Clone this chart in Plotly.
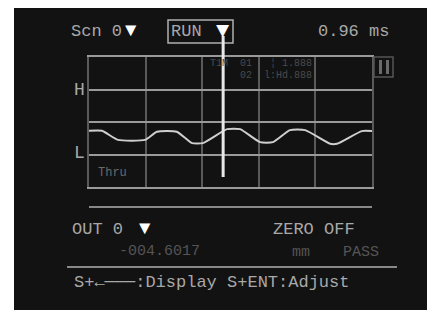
import plotly.graph_objects as go

# the page body adds an 8px margin; the figure fills the rest of the window
OX, OY = 8, 8
W, H = 435 - OX, 312 - OY

# waveform (x in divisions, y in divisions)
wave_x = [0.00, 0.23, 0.51, 0.99, 1.20, 1.55, 1.82, 2.01, 2.44, 2.67, 3.02, 3.25, 3.55, 3.82, 4.26, 4.38, 4.82, 5.00]
wave_y = [1.73, 1.73, 1.45, 1.45, 1.70, 1.70, 1.35, 1.35, 1.78, 1.78, 1.38, 1.38, 1.75, 1.75, 1.33, 1.33, 1.72, 1.72]
cursor_pos = 2.37

scan_label = "Scn 0"
run_label = "RUN"
time_label = "0.96 ms"
out_label = "OUT 0"
zero_label = "ZERO OFF"
value_label = "-004.6017"
unit_label = "mm"
judge_label = "PASS"
help_label = "S+←───:Display S+ENT:Adjust"

FONT = "Liberation Mono, DejaVu Sans Mono, monospace"
TXT = "#a8a8a8"
DIM = "#555555"

def px(x):
    return (x - OX) / W

def py(y):
    return 1 - (y - OY) / H

fig = go.Figure()
fig.add_trace(go.Scatter(x=wave_x, y=wave_y, mode="lines",
                         line=dict(color="#cfcfcf", width=2, shape="spline", smoothing=0.5),
                         hoverinfo="skip", showlegend=False))

fig.update_layout(
    width=W, height=H, autosize=False,
    margin=dict(l=0, r=0, t=0, b=0),
    paper_bgcolor="#121212", plot_bgcolor="#121212",
    showlegend=False,
    xaxis=dict(domain=[px(89), px(372)], range=[0, 5], dtick=1, showgrid=True,
               gridcolor="#5a5a5a", gridwidth=1.5, zeroline=False, showticklabels=False,
               showline=True, mirror=True, linecolor="#9a9a9a", linewidth=1.5, ticks=""),
    yaxis=dict(domain=[py(187), py(57)], range=[0, 4], dtick=1, showgrid=True,
               gridcolor="#9a9a9a", gridwidth=1.5, zeroline=False, showticklabels=False,
               showline=True, mirror=True, linecolor="#5a5a5a", linewidth=1.5, ticks=""),
)

shapes = []
# white frame outside the screen
for x0, y0, x1, y1 in [(OX, OY, 14, 312), (430, OY, 435, 312), (OX, 310, 435, 312)]:
    shapes.append(dict(type="rect", xref="paper", yref="paper", x0=px(x0), x1=px(x1),
                       y0=py(y1), y1=py(y0), fillcolor="white", line=dict(width=0), layer="above"))
# RUN box
shapes.append(dict(type="rect", xref="paper", yref="paper", x0=px(168), x1=px(233),
                   y0=py(43), y1=py(20), line=dict(color="#b0b0b0", width=1.5)))
# small pause box
shapes.append(dict(type="rect", xref="paper", yref="paper", x0=px(374), x1=px(393),
                   y0=py(77), y1=py(57), line=dict(color="#555555", width=1.5)))
for bx in (379, 386):
    shapes.append(dict(type="rect", xref="paper", yref="paper", x0=px(bx), x1=px(bx + 3),
                       y0=py(74), y1=py(60), fillcolor="#6a6a6a", line=dict(width=0)))
# separators
shapes.append(dict(type="line", xref="paper", yref="paper", x0=px(89), x1=px(372),
                   y0=py(207), y1=py(207), line=dict(color="#b0b0b0", width=1.5)))
shapes.append(dict(type="line", xref="paper", yref="paper", x0=px(67), x1=px(397),
                   y0=py(267), y1=py(267), line=dict(color="#b0b0b0", width=1.5)))
# cursor
shapes.append(dict(type="line", xref="x", yref="paper", x0=cursor_pos, x1=cursor_pos,
                   y0=py(177), y1=py(36), line=dict(color="#e8e8e8", width=3), layer="above"))
fig.update_layout(shapes=shapes)

def ann(text, x, y, color=TXT, size=17, anchor="left"):
    fig.add_annotation(text=text, x=px(x), y=py(y), xref="paper", yref="paper",
                       xanchor=anchor, yanchor="middle", showarrow=False,
                       font=dict(family=FONT, size=size, color=color))

ann(scan_label, 69, 31)
ann("▼", 131, 31, color="#ffffff", size=19, anchor="center")
ann(run_label, 169, 31)
fig.add_annotation(text="▼", x=cursor_pos, y=py(31), xref="x", yref="paper",
                   xanchor="center", yanchor="middle", showarrow=False,
                   font=dict(family=FONT, size=22, color="#ffffff"))
ann(time_label, 316, 31)
ann("H", 72, 90, size=18)
ann("L", 72, 153, size=18)
ann("Thru", 96, 173, color="#6a6a6a", size=12)
ann("T1M  01   ¦ 1.888", 208, 63, color="#4a4a4a", size=10)
ann("     02  l:Hd.888", 208, 75, color="#4a4a4a", size=10)
ann(out_label, 70, 229)
ann("▼", 145, 229, color="#ffffff", size=19, anchor="center")
ann(zero_label, 271, 229)
ann(value_label, 117, 251, color=DIM, size=15)
ann(unit_label, 290, 252, color=DIM, size=15)
ann(judge_label, 341, 252, color=DIM, size=15)
ann(help_label, 72, 282)

fig.write_html("out.html")
